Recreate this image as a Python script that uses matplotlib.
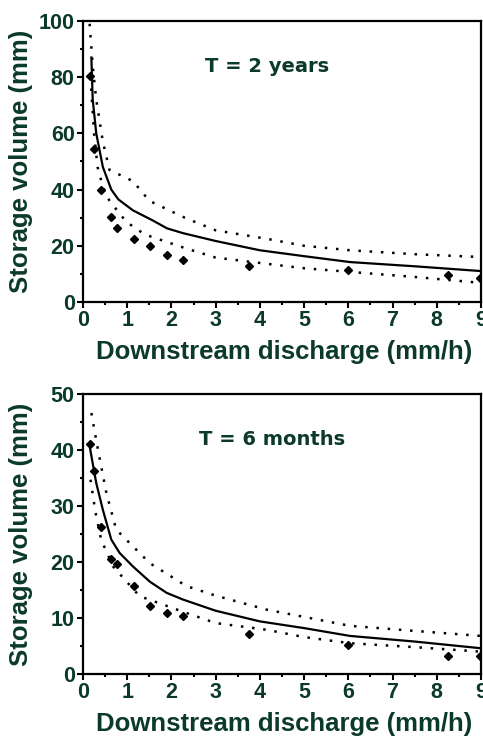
import matplotlib
matplotlib.use("Agg")
import matplotlib.pyplot as plt
from matplotlib.ticker import MultipleLocator

# observed points (diamonds)
q_obs = [0.17, 0.25, 0.41, 0.63, 0.77, 1.15, 1.52, 1.90, 2.27, 3.76, 6.0, 8.25, 8.98]
v2y_obs = [80.3, 54.6, 40.0, 30.2, 26.3, 22.5, 19.9, 16.6, 15.1, 12.9, 11.3, 9.7, 8.7]
v6m_obs = [41.1, 36.3, 26.2, 20.6, 19.6, 15.8, 12.2, 10.9, 10.3, 7.1, 5.2, 3.3, 3.3]

# T = 2 years curves
q2_mid = [0.19, 0.22, 0.30, 0.45, 0.64, 0.80, 1.13, 1.58, 1.90, 2.26, 3.0, 4.0, 5.0, 6.04, 7.5, 9.0]
v2_mid = [87.0, 72.0, 60.0, 48.0, 40.0, 36.5, 32.6, 29.0, 26.2, 24.5, 21.7, 18.4, 16.3, 14.2, 12.7, 11.0]
q2_up = [0.15, 0.22, 0.30, 0.45, 0.60, 1.13, 1.50, 2.30, 3.0, 4.15, 5.0, 6.04, 7.5, 9.0]
v2_up = [99.0, 84.0, 72.0, 57.0, 47.0, 43.0, 36.0, 30.0, 25.5, 22.5, 20.0, 18.4, 17.0, 16.0]
q2_lo = [0.17, 0.25, 0.33, 0.45, 0.60, 0.98, 1.40, 2.34, 3.0, 4.15, 5.0, 6.04, 7.5, 9.0]
v2_lo = [80.0, 60.0, 48.0, 41.0, 36.0, 28.5, 24.0, 19.0, 15.8, 13.6, 12.0, 10.7, 8.9, 6.8]

# T = 6 months curves
q6_mid = [0.15, 0.30, 0.45, 0.64, 0.83, 1.13, 1.51, 1.89, 2.26, 3.0, 4.0, 5.0, 6.04, 7.5, 9.0]
v6_mid = [40.7, 34.1, 29.3, 24.0, 21.6, 19.2, 16.5, 14.5, 13.3, 11.3, 9.4, 8.2, 6.8, 5.8, 4.6]
q6_up = [0.19, 0.34, 0.53, 0.75, 1.13, 1.51, 2.34, 3.0, 4.15, 5.0, 6.04, 7.5, 9.0]
v6_up = [46.6, 40.0, 32.3, 25.8, 22.8, 19.8, 15.7, 14.0, 11.5, 10.2, 8.6, 7.7, 6.8]
q6_lo = [0.17, 0.28, 0.41, 0.68, 1.28, 2.34, 3.0, 4.15, 5.0, 6.04, 7.5, 9.0]
v6_lo = [34.7, 29.0, 24.0, 19.2, 13.9, 10.9, 9.1, 7.9, 6.6, 5.5, 4.8, 4.0]

txt = "#0b3a2c"
sans = ["Liberation Sans", "DejaVu Sans"]

fig = plt.figure(figsize=(4.83, 7.36), dpi=100)
ax1 = fig.add_axes([0.1718, 0.5897, 0.8241, 0.3818])
ax2 = fig.add_axes([0.1718, 0.0842, 0.8241, 0.3805])

panels = [
    (ax1, q2_mid, v2_mid, q2_up, v2_up, q2_lo, v2_lo, v2y_obs, 100, 20, 10, "T = 2 years", 0.462),
    (ax2, q6_mid, v6_mid, q6_up, v6_up, q6_lo, v6_lo, v6m_obs, 50, 10, 5, "T = 6 months", 0.475),
]

for ax, qm, vm, qu, vu, ql, vl, vobs, ymax, ymaj, ymin, title, tx in panels:
    ax.plot(qm, vm, color="black", lw=1.6)
    ax.plot(qu, vu, color="black", lw=1.8, linestyle=(0, (1, 3.5)))
    ax.plot(ql, vl, color="black", lw=1.8, linestyle=(0, (1, 3.5)))
    ax.plot(q_obs, vobs, "D", color="black", markersize=3.8, linestyle="none")

    ax.set_xlim(0, 9)
    ax.set_ylim(0, ymax)
    ax.xaxis.set_major_locator(MultipleLocator(1))
    ax.xaxis.set_minor_locator(MultipleLocator(0.5))
    ax.yaxis.set_major_locator(MultipleLocator(ymaj))
    ax.yaxis.set_minor_locator(MultipleLocator(ymin))
    ax.tick_params(which="major", direction="out", length=4, width=1.5,
                   pad=2, labelcolor=txt)
    ax.tick_params(which="minor", direction="out", length=2.5, width=1.5)
    for lab in ax.get_xticklabels() + ax.get_yticklabels():
        lab.set_family(sans)
        lab.set_fontweight("bold")
        lab.set_fontsize(15.5)
    for s in ax.spines.values():
        s.set_linewidth(1.6)

    ax.set_ylabel("Storage volume (mm)", family=sans, fontweight="bold",
                  fontsize=18.5, color=txt)
    ax.yaxis.set_label_coords(-0.125, 0.5)
    ax.set_xlabel("Downstream discharge (mm/h)", family=sans,
                  fontweight="bold", fontsize=18.5, color=txt)
    ax.xaxis.set_label_coords(0.505, -0.135)

    ax.text(tx, 0.837, title, transform=ax.transAxes, ha="center", va="center",
            fontsize=14, fontweight="bold", color=txt, family="DejaVu Sans")

fig.savefig("out.png", dpi=100)
